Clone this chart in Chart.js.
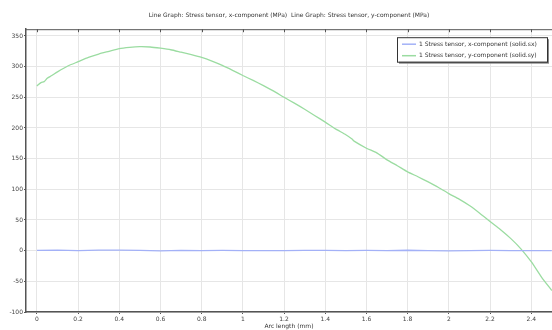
<!DOCTYPE html>
<html>
<head>
<meta charset="utf-8">
<script src="https://cdn.jsdelivr.net/npm/chart.js@4/dist/chart.umd.min.js"></script>
<style>
  html, body { margin: 0; padding: 0; background: #fff; }
  #wrap { width: 552px; height: 330px; }
</style>
</head>
<body>
<div id="wrap"><canvas id="myChart"></canvas></div>
<script>
// arc length (mm) and stress values (MPa)
const sxArc = [0, 0.1, 0.2, 0.3, 0.4, 0.5, 0.6, 0.7, 0.8, 0.9, 1.0, 1.1, 1.2, 1.3, 1.4, 1.5, 1.6, 1.7, 1.8, 1.9, 2.0, 2.1, 2.2, 2.3, 2.4, 2.5];
const sxValues = [0.3, 0.8, 0.2, 0.9, 1.0, 0.6, -0.2, 0.4, 0.1, 0.3, -0.1, 0.2, 0.1, 0.3, 0.6, 0.2, 0.4, 0.1, 0.7, 0.2, -0.2, 0.1, 0.3, -0.1, 0.2, 0.1];

const syArc = [0, 0.02, 0.035, 0.05, 0.07, 0.1, 0.15, 0.2, 0.25, 0.3, 0.35, 0.4, 0.45, 0.5, 0.55, 0.6, 0.65, 0.7, 0.75, 0.8, 0.85, 0.9, 0.95, 1.0, 1.05, 1.1, 1.15, 1.2, 1.25, 1.3, 1.35, 1.4, 1.45, 1.5, 1.53, 1.54, 1.6, 1.65, 1.7, 1.75, 1.8, 1.85, 1.9, 1.95, 2.0, 2.05, 2.1, 2.15, 2.2, 2.25, 2.3, 2.35, 2.4, 2.45, 2.5];
const syValues = [268.5, 274, 275.5, 281, 285, 291.5, 301, 308, 315, 320.5, 325, 329.5, 331.5, 332.5, 332, 330, 327.5, 323.5, 319.5, 315, 309, 302, 294, 285.5, 277.5, 269, 260, 250, 240.5, 230.5, 220, 209.5, 198.5, 189, 182, 178.5, 167, 159.5, 148, 138.5, 128.5, 120.5, 112, 103, 93, 84, 73.5, 61, 47.5, 34.5, 20, 3, -18, -43, -65];

const xTicks = [0, 0.2, 0.4, 0.6, 0.8, 1, 1.2, 1.4, 1.6, 1.8, 2, 2.2, 2.4];
const xTickLabels = ["0", "0.2", "0.4", "0.6", "0.8", "1", "1.2", "1.4", "1.6", "1.8", "2", "2.2", "2.4"];
const yTicks = [-100, -50, 0, 50, 100, 150, 200, 250, 300, 350];
const yTickLabels = ["-100", "-50", "0", "50", "100", "150", "200", "250", "300", "350"];

const seriesNames = ["1 Stress tensor, x-component (solid.sx)", "1 Stress tensor, y-component (solid.sy)"];
const seriesColors = ["#a3b1f7", "#9bdca1"];

const FONT = "DejaVu Sans";

function toPoints(xs, ys) {
    return xs.map((x, i) => ({ x: x, y: ys[i] }));
}

// top frame line with inward ticks, and the boxed legend
const framePlugin = {
    id: "frame",
    afterDraw(chart) {
        const ctx = chart.ctx;
        const area = chart.chartArea;
        const xs = chart.scales.x;
        ctx.save();
        ctx.strokeStyle = "#555";
        ctx.lineWidth = 1;
        ctx.beginPath();
        ctx.moveTo(area.left, area.top + 0.5);
        ctx.lineTo(area.right, area.top + 0.5);
        xTicks.forEach(v => {
            const px = Math.round(xs.getPixelForValue(v)) + 0.5;
            ctx.moveTo(px, area.top);
            ctx.lineTo(px, area.top + 3);
        });
        ctx.stroke();

        // legend box
        const w = 150, h = 24.5;
        const bx = area.right - 5 - w;
        const by = area.top + 8;
        ctx.fillStyle = "#888";
        ctx.fillRect(bx + 2, by + 2, w, h);
        ctx.fillStyle = "#fff";
        ctx.fillRect(bx, by, w, h);
        ctx.strokeStyle = "#333";
        ctx.lineWidth = 1;
        ctx.strokeRect(bx + 0.5, by + 0.5, w, h);

        ctx.font = "6px '" + FONT + "'";
        ctx.textBaseline = "middle";
        ctx.textAlign = "left";
        seriesNames.forEach((name, i) => {
            const ly = by + 7 + i * 11.5;
            ctx.strokeStyle = seriesColors[i];
            ctx.lineWidth = 1.5;
            ctx.beginPath();
            ctx.moveTo(bx + 5, ly);
            ctx.lineTo(bx + 19, ly);
            ctx.stroke();
            ctx.fillStyle = "#333";
            ctx.fillText(name, bx + 22, ly);
        });
        ctx.restore();
    }
};

const chart = document.getElementById("myChart").getContext("2d");

let myChart = new Chart(chart, {
    type: "line",
    data: {
        datasets: [
            {
                label: seriesNames[0],
                data: toPoints(sxArc, sxValues),
                borderColor: seriesColors[0],
                borderWidth: 1.3,
                pointRadius: 0,
                tension: 0,
            },
            {
                label: seriesNames[1],
                data: toPoints(syArc, syValues),
                borderColor: seriesColors[1],
                borderWidth: 1.3,
                pointRadius: 0,
                tension: 0.2,
            }
        ],
    },
    options: {
        responsive: true,
        maintainAspectRatio: false,
        animation: false,
        layout: { padding: 0 },
        plugins: {
            legend: { display: false },
            tooltip: { enabled: false },
            title: {
                display: true,
                fullSize: false,
                text: "Line Graph: Stress tensor, x-component (MPa)  Line Graph: Stress tensor, y-component (MPa)",
                color: "#333",
                font: { family: FONT, size: 6, weight: "normal" },
                padding: { top: 12, bottom: 10 },
            },
        },
        scales: {
            x: {
                type: "linear",
                min: -0.053,
                max: 2.501,
                afterBuildTicks: axis => { axis.ticks = xTicks.map(v => ({ value: v })); },
                afterFit: axis => { axis.height = 18; },
                ticks: {
                    callback: (v, i) => xTickLabels[i],
                    color: "#444",
                    font: { family: FONT, size: 6 },
                    padding: 2,
                    maxRotation: 0,
                },
                grid: { color: "#e6e6e6", tickColor: "#555", tickLength: 2 },
                border: { color: "#555", width: 1.5 },
                title: {
                    display: true,
                    text: "Arc length (mm)",
                    color: "#333",
                    font: { family: FONT, size: 6 },
                    padding: 0,
                },
            },
            y: {
                type: "linear",
                min: -100,
                max: 361,
                afterBuildTicks: axis => { axis.ticks = yTicks.map(v => ({ value: v })); },
                afterFit: axis => { axis.width = 26; },
                ticks: {
                    callback: (v, i) => yTickLabels[i],
                    color: "#444",
                    font: { family: FONT, size: 6 },
                    padding: 1,
                },
                grid: { color: "#e6e6e6", tickColor: "#555", tickLength: 2 },
                border: { color: "#555", width: 1.5 },
            },
        },
    },
    plugins: [framePlugin],
});
</script>
</body>
</html>
